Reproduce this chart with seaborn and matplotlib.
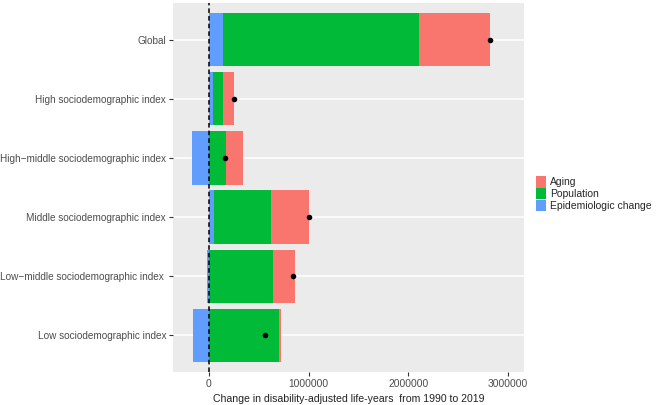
import numpy as np
import pandas as pd
import seaborn as sns
import matplotlib.pyplot as plt
from matplotlib.patches import Patch

# data (DALYs change 1990 -> 2019)
regions = ['Global', 'High sociodemographic index', 'High\u2212middle sociodemographic index',
           'Middle sociodemographic index', 'Low\u2212middle sociodemographic index ',
           'Low sociodemographic index']
epidemiologic = [137000, 40000, -174000, 47000, -17000, -163000]
population = [1969000, 103000, 171000, 572000, 645000, 705000]
aging = [712000, 108000, 167000, 384000, 218000, 17000]

colors = {'Aging': '#F8766D', 'Population': '#00BA38', 'Epidemiologic change': '#619CFF'}

epi = np.array(epidemiologic)
pop = np.array(population)
age = np.array(aging)
epi_pos = np.clip(epi, 0, None)

df = pd.DataFrame({
    'region': regions,
    'aging_end': epi_pos + pop + age,
    'pop_end': epi_pos + pop,
    'epi': epi,
    'total': epi + pop + age,
})

sns.set_theme(style='darkgrid', rc={
    'axes.facecolor': '#EBEBEB',
    'grid.color': 'white',
    'grid.linewidth': 1.1,
})
plt.rcParams['font.family'] = ['Liberation Sans', 'DejaVu Sans']

fig = plt.figure(figsize=(6.62, 4.05), dpi=100)
ax = fig.add_axes([173 / 662, 1 - 372 / 405, (524 - 173) / 662, (372 - 3) / 405])

# stacked by overlaying cumulative bars
sns.barplot(data=df, x='aging_end', y='region', color=colors['Aging'], width=0.9,
            saturation=1, orient='h', ax=ax)
sns.barplot(data=df, x='pop_end', y='region', color=colors['Population'], width=0.9,
            saturation=1, orient='h', ax=ax)
sns.barplot(data=df, x='epi', y='region', color=colors['Epidemiologic change'], width=0.9,
            saturation=1, orient='h', ax=ax)
for p in ax.patches:
    p.set_linewidth(0)

sns.scatterplot(data=df, x='total', y='region', color='black', s=16, linewidth=0,
                ax=ax, zorder=5)

ax.axvline(0, color='black', linestyle=(0, (3, 2)), linewidth=1.1, zorder=6)

ax.set_xlim(-361000, 3160000)
ax.set_ylim(5.62, -0.62)
ax.set_xticks([0, 1000000, 2000000, 3000000])
ax.set_xticklabels(['0', '1000000', '2000000', '3000000'])
ax.grid(axis='x', visible=False)
ax.grid(axis='y', visible=True, color='white', linewidth=1.1)
ax.set_axisbelow(True)
for s in ax.spines.values():
    s.set_visible(False)

ax.tick_params(axis='both', which='both', length=3, width=0.8, color='#333333',
               labelsize=7.4, labelcolor='#4D4D4D', pad=2)
ax.tick_params(axis='y', labelsize=7.2)
ax.tick_params(axis='x', bottom=True)
ax.tick_params(axis='y', left=True)
ax.set_ylabel('')
ax.set_xlabel('Change in disability-adjusted life-years  from 1990 to 2019',
              fontsize=7.6, color='#222222', labelpad=4)

handles = [Patch(facecolor=colors[k], edgecolor='none', label=k) for k in colors]
fig.legend(handles=handles, loc='upper left', bbox_to_anchor=(532 / 662, 1 - 172 / 405),
           frameon=False, fontsize=7.5, handlelength=0.9, handleheight=1.3,
           labelspacing=0.05, handletextpad=0.45, borderaxespad=0)

fig.savefig('out.png', dpi=100)
